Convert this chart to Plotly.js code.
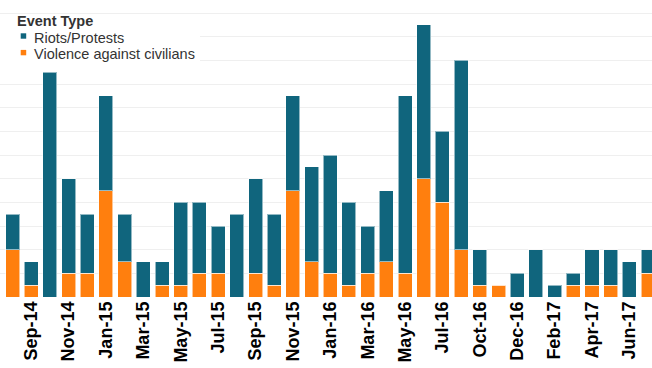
<!DOCTYPE html>
<html>
<head>
<meta charset="utf-8">
<script src="https://cdn.plot.ly/plotly-3.0.1.min.js"></script>
<style>html,body{margin:0;padding:0;background:#fff;}#chart{width:652px;height:368px;}</style>
</head>
<body>
<div id="chart"></div>
<script>
// Months (categories); one month between Jul-16 and Oct-16 is absent in the source
var months = ["Aug-14","Sep-14","Oct-14","Nov-14","Dec-14","Jan-15","Feb-15","Mar-15","Apr-15","May-15","Jun-15","Jul-15",
              "Aug-15","Sep-15","Oct-15","Nov-15","Dec-15","Jan-16","Feb-16","Mar-16","Apr-16","May-16","Jun-16","Jul-16",
              "Aug-16","Oct-16","Nov-16","Dec-16","Jan-17","Feb-17","Mar-17","Apr-17","May-17","Jun-17","Jul-17"];
var violence = [4,1,0,2,2,9,3,0,1,1,2,2, 0,2,1,9,3,2,1,2,3,2,10,8, 4,1,1,0,0,0,1,1,1,0,2];
var riots    = [3,2,19,8,5,8,4,3,2,7,6,4, 7,8,6,8,8,10,7,4,6,15,13,6, 16,3,0,2,4,1,1,3,3,3,2];
var tickLabels = ["Sep-14","Nov-14","Jan-15","Mar-15","May-15","Jul-15","Sep-15","Nov-15","Jan-16","Mar-16",
                  "May-16","Jul-16","Oct-16","Dec-16","Feb-17","Apr-17","Jun-17"];
var seriesNames = ["Riots/Protests","Violence against civilians"];
var legendTitle = "Event Type";

var teal = "#10657d", orange = "#ff7f0e";
var lineStyle = {color: "rgba(255,255,255,0.55)", width: 1};

var traces = [
  {type: "bar", name: seriesNames[1], x: months, y: violence, marker: {color: orange, line: lineStyle}, showlegend: false},
  {type: "bar", name: seriesNames[0], x: months, y: riots, marker: {color: teal, line: lineStyle}, showlegend: false}
];

var H = 297; // plot-area height in px (for paper-coordinate legend placement)
function py(p){ return (H - p) / H; }
function px(p){ return p / 652; }

var layout = {
  width: 652, height: 368,
  margin: {l: 0, r: 0, t: 0, b: 71, pad: 0},
  paper_bgcolor: "#fff", plot_bgcolor: "#fff",
  barmode: "stack", bargap: 0.25,
  showlegend: false, hovermode: false,
  font: {family: "Liberation Sans, Arial, sans-serif"},
  xaxis: {
    type: "category", range: [-0.669, 34.21],
    tickmode: "array", tickvals: tickLabels, ticktext: tickLabels,
    tickangle: -90, ticks: "", showgrid: false, zeroline: false, showline: false,
    tickfont: {size: 18, color: "#000", weight: "bold", family: "Liberation Sans, Arial, sans-serif"}
  },
  yaxis: {
    range: [0, 25.1], dtick: 2, showticklabels: false, ticks: "",
    showgrid: true, gridcolor: "#efefef", gridwidth: 1, zeroline: false, showline: false
  },
  shapes: [
    {type: "rect", xref: "paper", yref: "paper", x0: 0, x1: px(200), y0: py(66), y1: py(15),
     fillcolor: "#fff", line: {width: 0}, layer: "above"},
    {type: "rect", xref: "paper", yref: "paper", x0: px(20.7), x1: px(26.2), y0: py(38.7), y1: py(33.3),
     fillcolor: teal, line: {width: 0}, layer: "above"},
    {type: "rect", xref: "paper", yref: "paper", x0: px(20.7), x1: px(26.2), y0: py(55.3), y1: py(49.9),
     fillcolor: orange, line: {width: 0}, layer: "above"}
  ],
  annotations: [
    {xref: "paper", yref: "paper", x: px(15), y: py(21), xanchor: "left", yanchor: "middle", showarrow: false,
     text: "<b>" + legendTitle + "</b>", font: {size: 14.5, color: "#333"}},
    {xref: "paper", yref: "paper", x: px(31.7), y: py(37.5), xanchor: "left", yanchor: "middle", showarrow: false,
     text: seriesNames[0], font: {size: 14.5, color: "#333"}},
    {xref: "paper", yref: "paper", x: px(31.7), y: py(54), xanchor: "left", yanchor: "middle", showarrow: false,
     text: seriesNames[1], font: {size: 14.5, color: "#333"}}
  ]
};

Plotly.newPlot("chart", traces, layout, {displayModeBar: false, staticPlot: true});
</script>
</body>
</html>
